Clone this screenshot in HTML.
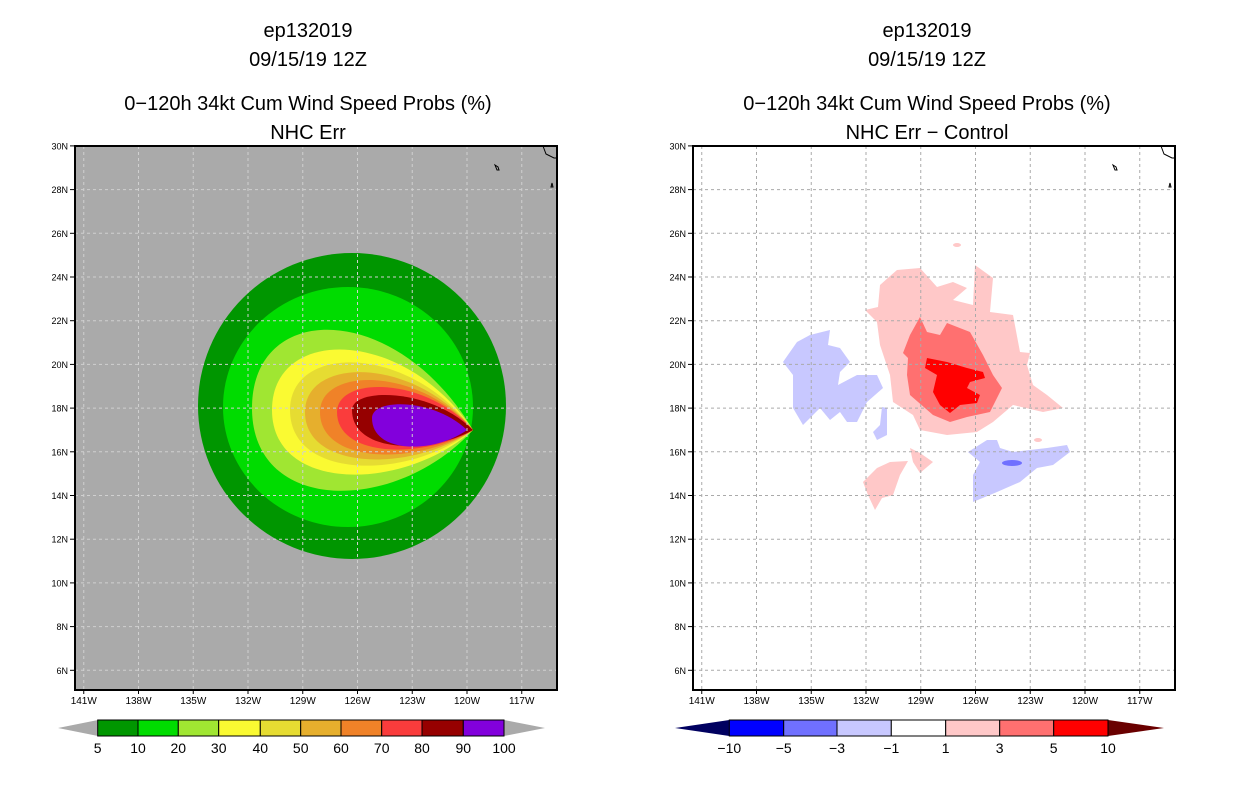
<!DOCTYPE html>
<html><head><meta charset="utf-8"><style>
body{margin:0;background:#fff;}
svg{display:block;font-family:"Liberation Sans",sans-serif;}
</style></head><body>
<svg id="s" width="1236" height="800" viewBox="0 0 1236 800">
<g font-size="20" text-anchor="middle" fill="#000">
<text x="308" y="37">ep132019</text>
<text x="308" y="66">09/15/19 12Z</text>
<text x="308" y="110">0−120h 34kt Cum Wind Speed Probs (%)</text>
<text x="308" y="139">NHC Err</text>
</g>
<g font-size="20" text-anchor="middle" fill="#000">
<text x="927" y="37">ep132019</text>
<text x="927" y="66">09/15/19 12Z</text>
<text x="927" y="110">0−120h 34kt Cum Wind Speed Probs (%)</text>
<text x="927" y="139">NHC Err − Control</text>
</g>
<defs><clipPath id="cl"><rect x="75" y="146" width="482" height="544"/></clipPath>
<clipPath id="cr"><rect x="693" y="146" width="482" height="544"/></clipPath></defs>
<g id="left">
<rect x="75" y="146" width="482" height="544" fill="#aaaaaa"/>
<g clip-path="url(#cl)" id="lc"></g>
</g>
<g id="right">
<rect x="693" y="146" width="482" height="544" fill="#fff"/>
<g clip-path="url(#cr)" id="rc">
<path fill="#ffc8c8" d="M880,285 L897,270 L920,268 L937,287 L953,282 L967,288 L953,300 L973,305 L975,265 L993,278 L990,312 L1013,315 L1020,352 L1030,353 L1027,365 L1033,385 L1047,395 L1063,408 L1043,412 L1013,405 L993,422 L977,432 L947,435 L920,430 L913,415 L893,402 L890,375 L880,345 L877,322 L865,310 L878,307Z"/>
<path fill="#ff7070" d="M910,335 L920,317 L927,332 L940,335 L947,323 L970,332 L983,355 L993,375 L1002,388 L990,412 L967,417 L950,422 L933,415 L910,395 L907,375 L908,358 L903,353Z"/>
<path fill="#ff0000" d="M927,358 L947,362 L967,368 L983,372 L985,378 L970,382 L967,388 L980,395 L977,403 L960,405 L950,413 L940,405 L933,392 L937,375 L925,368Z"/>
<path fill="#c8c8ff" d="M783,362 L797,342 L810,335 L830,330 L828,345 L840,348 L850,362 L840,372 L838,385 L857,375 L877,375 L883,388 L867,402 L857,422 L847,422 L840,412 L830,420 L820,408 L803,425 L793,408 L793,375Z"/>
<path fill="#c8c8ff" d="M882,407 L887,408 L887,435 L877,440 L873,432 L880,425Z"/>
<path fill="#c8c8ff" d="M968,452 L987,440 L997,440 L1000,448 L1013,452 L1047,448 L1067,445 L1070,452 L1053,465 L1037,468 L1020,482 L997,492 L973,502 L973,475 L980,462Z"/>
<ellipse cx="1012" cy="463" rx="10" ry="3" fill="#7070ff"/>
<path fill="#ffc8c8" d="M863,482 L877,468 L890,462 L908,461 L900,475 L893,495 L882,498 L875,510 L868,495Z"/>
<path fill="#ffc8c8" d="M910,448 L920,453 L933,462 L920,473 L913,462Z"/>
<ellipse cx="957" cy="245" rx="4" ry="2" fill="#ffc8c8"/>
<ellipse cx="1038" cy="440" rx="4" ry="2" fill="#ffc8c8"/>
</g>
</g>
<g id="axes"></g>
<g id="cbars"></g>
</svg>
<script>
const NS='http://www.w3.org/2000/svg';
const levels=[5,10,20,30,40,50,60,70,80,90,100];
const probColors=['#009600','#00dc00','#a0e632','#fafa32','#e6dc32','#e6af2d','#f08228','#fa3c3c','#960000','#8200dc'];
const diffLabels=['-10','-5','-3','-1','1','3','5','10'];
const diffColors=['#000060','#0000ff','#7070ff','#c8c8ff','#ffffff','#ffc8c8','#ff7070','#ff0000','#6a0000'];
const lonTicks=[141,138,135,132,129,126,123,120,117];
const latTicks=[30,28,26,24,22,20,18,16,14,12,10,8,6];
function mk(tag,attrs,parent){const e=document.createElementNS(NS,tag);for(const k in attrs)e.setAttribute(k,attrs[k]);parent.appendChild(e);return e;}
function xl(lon,off){return 248+(132-lon)*18.25+off;}
function yl(lat){return 277-(lat-24)*21.85;}
// left contours
const lc=document.getElementById('lc');
let e=mk('ellipse',{cx:352,cy:406,rx:154,ry:153,fill:probColors[0]},lc);


e=mk('ellipse',{cx:348,cy:407,rx:125,ry:120,fill:probColors[1]},lc);


const tear=[[252,327,488,408,473],[272,347,472,410,473],[290,360,463,410,473],[305,370,457,412,473],[320,378,452,412,473],[337,385,447,412,473],[352,393,443,410,473],[372,403,445,418,467]];
tear.forEach((t,i)=>{const [L,T,B,cy,tx]=t;const ty=430;const w=tx-L;
const ct=cy+(T-cy)*1.33, cb=cy+(B-cy)*1.33;
const d=`M${tx},${ty} C${tx-0.35*w},${ct} ${L},${ct} ${L},${cy} C${L},${cb} ${tx-0.35*w},${cb} ${tx},${ty}Z`;
const p=mk('path',{d:d,fill:probColors[i+2]},lc);

});
// grids, axes
const ax=document.getElementById('axes');
[[0,'left','#d0d0d0'],[618,'right','#aaaaaa']].forEach(([off,nm,gc])=>{
 const g=mk('g',{},ax);
 
 
 lonTicks.forEach(lo=>{const x=xl(lo,off);
  if(x>off+76&&x<off+556){const l=mk('line',{x1:x,x2:x,y1:146,y2:690,stroke:gc,'stroke-width':1,'stroke-dasharray':'3,3'},g);
  
  }
  const t=mk('text',{x:x,y:704,'font-size':10,'text-anchor':'middle'},ax);t.textContent=lo+'W';
  
  
  mk('line',{x1:x,x2:x,y1:690,y2:694,stroke:'#000'},ax);});
 latTicks.forEach(la=>{const y=yl(la);
  if(y>147&&y<689){const l=mk('line',{x1:off+75,x2:off+557,y1:y,y2:y,stroke:gc,'stroke-width':1,'stroke-dasharray':'3,3'},g);
  
  }
  const t=mk('text',{x:off+68,y:y+3.5,'font-size':9,'text-anchor':'end'},ax);t.textContent=la+'N';
  
  
  mk('line',{x1:off+70,x2:off+75,y1:y,y2:y,stroke:'#000'},ax);});
 const c=mk('path',{d:`M${off+495},165 l3,2 l1,3 l-2,0Z M${off+552},183 l1,4 l-2,0Z M${off+543},146 l3,8 l8,4 l3,0`,fill:'none',stroke:'#000','stroke-width':1},ax);
 
 
 const f=mk('rect',{x:off+75,y:146,width:482,height:544,fill:'none',stroke:'#000','stroke-width':2},ax);
 
 
});
// colorbars
const cb=document.getElementById('cbars');
const lEdges=[97.7,138,178.3,218.7,260.3,300.7,341,381.7,422,463.3,504];
let g=mk('g',{},cb);


let p=mk('path',{d:'M98,720 L58,728 L98,736Z',fill:'#aaaaaa'},g);


p=mk('path',{d:'M504,720 L545,728 L504,736Z',fill:'#aaaaaa'},g);


probColors.forEach((c,i)=>{const r=mk('rect',{x:lEdges[i],y:720,width:lEdges[i+1]-lEdges[i],height:16,fill:c,stroke:'#000','stroke-width':1},g);
 
 });
levels.forEach((v,i)=>{const t=mk('text',{x:lEdges[i],y:753,'font-size':14,'text-anchor':'middle'},g);t.textContent=v;
 
 });
const rEdges=[729.3,783.7,837,891.3,945.7,999.7,1053.7,1108];
g=mk('g',{},cb);


p=mk('path',{d:'M729.3,720 L675,728 L729.3,736Z',fill:diffColors[0]},g);


p=mk('path',{d:'M1108,720 L1164,728 L1108,736Z',fill:diffColors[8]},g);


for(let i=0;i<7;i++){const r=mk('rect',{x:rEdges[i],y:720,width:rEdges[i+1]-rEdges[i],height:16,fill:diffColors[i+1],stroke:'#000','stroke-width':1},g);
 
 }
diffLabels.forEach((v,i)=>{const t=mk('text',{x:rEdges[i],y:753,'font-size':14,'text-anchor':'middle'},g);t.textContent=v.replace('-','−');
 
 });
</script>
</body></html>
